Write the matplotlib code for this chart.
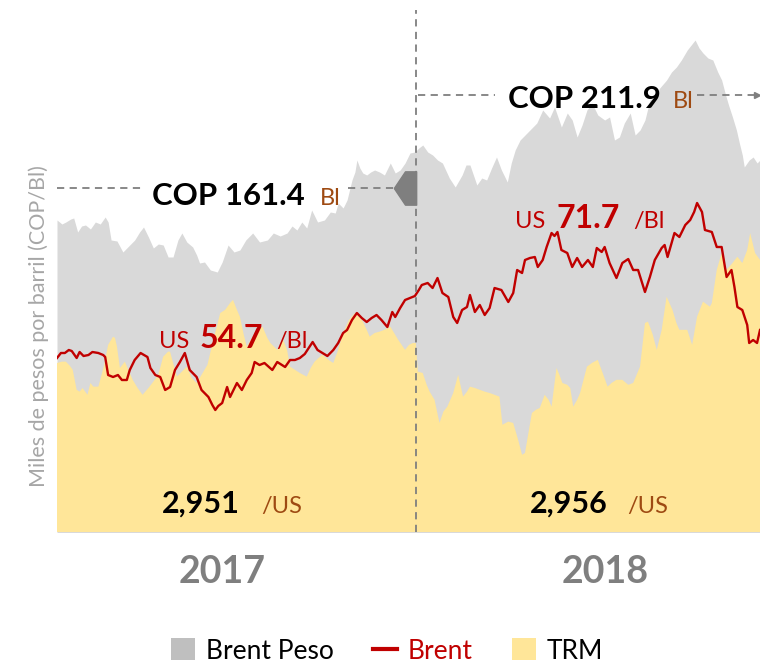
import matplotlib
matplotlib.use("Agg")
import matplotlib.pyplot as plt
from matplotlib.patches import Patch
from matplotlib.lines import Line2D

plt.rcParams['font.family'] = ['Lato', 'DejaVu Sans']

# dias contados desde el 1-ene-2017
dias_cop = [0, 5, 9, 14, 17, 21, 25, 29, 34, 39, 44, 49, 52, 55, 61, 67, 73, 79, 84, 88,
            93, 98, 103, 108, 113, 118, 123, 127, 132, 138, 142, 145, 150, 156, 163, 168, 174, 180, 186, 192,
            199, 206, 214, 220, 227, 234, 239, 244, 249, 254, 259, 265, 272, 278, 283, 286, 291, 295, 300, 303,
            305, 308, 311, 315, 319, 323, 328, 333, 339, 344, 349, 354, 359, 364, 368, 372, 377, 382, 387, 392,
            399, 405, 412, 416, 420, 427, 432, 437, 442, 447, 452, 458, 462, 466, 471, 478, 483, 488, 494, 501,
            506, 513, 519, 524, 529, 534, 539, 544, 550, 557, 562, 567, 572, 577, 583, 588, 593, 598, 603, 608,
            613, 620, 625, 630, 635, 641, 645, 649, 653, 657, 662, 667, 672, 676, 680, 683, 687, 691, 694, 697,
            699, 704, 708, 712, 715]
# miles de pesos por barril
brent_peso = [172, 170, 171, 172.5, 173, 166, 169, 169.5, 167.5, 171, 170, 173.5, 171, 162, 161.5, 156, 159, 162, 166, 168.5,
              163.5, 158, 160, 159.5, 153.5, 153.5, 162, 165.5, 161, 158.5, 154.5, 150.5, 151, 147, 146, 151, 159.5, 156, 157, 162,
              165.5, 161, 162, 165.5, 164, 165.5, 169, 167, 171, 168, 177, 171, 172, 176, 175.5, 180.5, 178, 182, 192, 196,
              202, 198, 195.5, 194.5, 196, 197, 196, 194.5, 200.5, 195.5, 197, 200.5, 205.5, 206, 208, 209.5, 206, 204.5, 202, 200.5,
              193, 188.5, 194.5, 199.5, 199.5, 189.5, 193, 192, 198, 203.5, 197, 191, 200.5, 207, 212, 215.5, 218, 220.5, 227, 223,
              228.5, 218.5, 225.5, 222, 213.5, 219.5, 227, 230.5, 224.5, 222, 223.5, 212, 213.5, 220.5, 225.5, 214.5, 217, 222, 232, 233.5,
              238, 242, 246, 248.5, 252, 257, 259.5, 262, 258, 255.5, 253, 252, 246, 242, 234.5, 229.5, 223.5, 217, 210.5, 204.5,
              198.5, 202, 203.5, 200.5, 202]

dias_brent = [0, 4, 8, 12, 15, 20, 23, 27, 32, 36, 42, 47, 49, 52, 57, 62, 66, 71, 74, 79,
              85, 92, 95, 100, 105, 110, 115, 120, 125, 130, 135, 142, 147, 154, 158, 161, 164, 168, 173, 176,
              183, 188, 193, 198, 201, 206, 211, 219, 224, 232, 237, 242, 247, 252, 256, 260, 265, 270, 275, 281,
              286, 291, 295, 300, 305, 310, 315, 320, 325, 330, 336, 341, 344, 349, 354, 359, 364, 368, 371, 377,
              382, 387, 392, 398, 403, 407, 412, 417, 420, 425, 430, 435, 440, 445, 452, 459, 464, 468, 473, 476,
              481, 486, 489, 494, 498, 503, 506, 509, 513, 519, 524, 529, 534, 540, 545, 549, 554, 557, 562, 569,
              575, 581, 586, 591, 598, 603, 608, 615, 618, 621, 628, 633, 639, 644, 648, 651, 656, 659, 666, 671,
              676, 681, 686, 689, 692, 697, 702, 704, 708, 712, 715]
# dolares por barril
brent_usd = [54.4, 55.4, 55.4, 56.0, 55.8, 54.4, 55.6, 54.8, 55.0, 55.6, 55.4, 55.0, 54.6, 51.0, 50.6, 51.0, 50.0, 50.0, 52.0, 54.0,
             55.4, 54.6, 52.4, 51.0, 50.6, 48.0, 48.6, 52.0, 53.6, 55.4, 52.0, 50.6, 48.0, 46.6, 45.0, 44.0, 44.8, 45.4, 48.6, 46.6,
             49.4, 48.0, 50.0, 51.4, 53.6, 53.0, 53.4, 52.0, 53.6, 52.6, 54.0, 54.0, 54.4, 55.2, 56.4, 57.6, 56.0, 55.4, 54.8, 56.0,
             57.4, 59.4, 60.0, 62.0, 63.4, 62.4, 61.6, 62.4, 63.0, 62.0, 60.6, 63.6, 62.6, 64.4, 66.0, 66.4, 66.8, 68.0, 69.0, 69.4,
             68.4, 70.4, 67.4, 66.6, 62.6, 61.4, 64.0, 64.6, 67.0, 63.6, 65.0, 63.0, 64.4, 68.4, 68.0, 65.6, 67.4, 72.0, 71.4, 74.0,
             74.4, 74.6, 72.6, 74.0, 76.6, 79.4, 78.8, 79.6, 76.0, 75.4, 72.6, 74.4, 72.6, 74.0, 72.6, 76.4, 75.6, 76.6, 73.4, 70.4,
             73.4, 74.2, 72.0, 72.0, 67.6, 70.6, 74.0, 76.4, 77.0, 74.6, 79.4, 78.6, 81.0, 82.0, 83.6, 85.4, 83.6, 80.0, 79.6, 76.6,
             76.6, 70.6, 72.0, 68.6, 64.6, 64.0, 61.0, 57.4, 58.0, 57.4, 60.0]

dias_trm = [0, 5, 9, 13, 16, 20, 23, 26, 31, 34, 37, 42, 44, 48, 52, 57, 59, 61, 64, 69,
            74, 77, 82, 87, 93, 98, 103, 108, 113, 115, 120, 122, 127, 132, 137, 142, 147, 153, 159, 163,
            166, 171, 176, 179, 183, 186, 190, 193, 199, 204, 209, 214, 217, 224, 230, 234, 237, 242, 247, 254,
            258, 262, 266, 270, 276, 281, 286, 291, 297, 303, 308, 311, 315, 318, 323, 328, 333, 339, 344, 347,
            354, 358, 362, 365, 367, 372, 376, 379, 384, 389, 393, 397, 403, 408, 413, 417, 420, 425, 430, 435,
            440, 445, 450, 453, 459, 464, 469, 473, 476, 480, 483, 487, 491, 496, 500, 503, 508, 511, 514, 519,
            522, 525, 529, 532, 539, 544, 550, 555, 560, 564, 569, 575, 581, 586, 593, 598, 601, 603, 606, 610,
            615, 620, 626, 630, 633, 641, 646, 651, 657, 664, 666, 671, 676, 681, 687, 692, 697, 702, 705, 710,
            715]
# pesos por dolar
trm = [2902, 2905, 2905, 2896, 2887, 2843, 2839, 2847, 2832, 2858, 2850, 2850, 2865, 2898, 2942, 2960, 2957, 2938, 2891, 2905,
       2880, 2865, 2847, 2832, 2847, 2861, 2876, 2916, 2927, 2927, 2887, 2872, 2883, 2894, 2869, 2858, 2876, 2898, 2953, 2986,
       3012, 3019, 3034, 3041, 3019, 3004, 2964, 2938, 2960, 2975, 2982, 2957, 2946, 2931, 2953, 2931, 2894, 2887, 2880, 2872,
       2891, 2905, 2913, 2920, 2909, 2902, 2931, 2968, 2997, 3012, 3001, 2993, 2975, 2960, 2968, 2971, 2975, 2982, 2964, 2953,
       2931, 2942, 2946, 2946, 2883, 2880, 2854, 2839, 2821, 2770, 2795, 2806, 2836, 2876, 2828, 2839, 2850, 2847, 2843, 2839,
       2836, 2832, 2828, 2766, 2773, 2770, 2733, 2700, 2704, 2755, 2792, 2799, 2803, 2832, 2821, 2806, 2891, 2876, 2858, 2854,
       2847, 2806, 2821, 2836, 2894, 2902, 2909, 2880, 2850, 2858, 2865, 2865, 2854, 2858, 2894, 2990, 2993, 2982, 2964, 2931,
       2975, 3048, 3019, 2990, 2975, 2975, 2942, 3004, 3037, 3026, 3034, 3107, 3144, 3107, 3122, 3136, 3122, 3151, 3188, 3144,
       3129]

anios = ['2017', '2018']
inicio_2018 = 365
prom_cop = [161.4, 211.9]
prom_usd = [54.7, 71.7]
prom_trm = ['2,951', '2,956']

rojo = '#C00000'
cafe = '#9E4A12'
gris = '#7F7F7F'

fig = plt.figure(figsize=(7.6, 6.67), dpi=100)
ax = fig.add_axes([57 / 760, 135 / 667, 703 / 760, 532 / 667])
ax_trm = ax.twinx()
ax_usd = ax.twinx()

ax.fill_between(dias_cop, 0, brent_peso, color='#D9D9D9', lw=0)
ax_trm.fill_between(dias_trm, 0, trm, color='#FFE699', lw=0)
ax_usd.plot(dias_brent, brent_usd, color=rojo, lw=1.7)
ax_usd.axvline(inicio_2018, ymin=0, ymax=0.981, color=gris, ls=(0, (4, 3)), lw=1.3)

ax.set_ylim(16, 282)
ax_trm.set_ylim(2530, 3701)
ax_usd.set_ylim(19.6, 126)
for a in (ax, ax_trm, ax_usd):
    a.set_xlim(0, 715)
    a.axis('off')


def fx(x):
    return x / 760


def fy(y):
    return 1 - y / 667


# lineas punteadas con el promedio en pesos
linea = dict(color=gris, ls=(0, (4, 3)), lw=1.3)
fig.add_artist(Line2D([fx(57), fx(143)], [fy(188), fy(188)], **linea))
fig.add_artist(Line2D([fx(348), fx(400)], [fy(188), fy(188)], **linea))
flecha = [(-0.67, 0), (0, 1), (0.67, 1), (0.67, -1), (0, -1), (-0.67, 0)]
fig.add_artist(Line2D([fx(405)], [fy(188)], marker=flecha, markersize=24, color=gris, lw=0))
fig.add_artist(Line2D([fx(418), fx(495)], [fy(95), fy(95)], **linea))
fig.add_artist(Line2D([fx(697), fx(757)], [fy(95), fy(95)], **linea))
fig.add_artist(Line2D([fx(757)], [fy(95)], marker='>', markersize=5, color=gris, lw=0))

# etiquetas de promedios
pos_cop = [(152, 320, 205), (508, 673, 108)]
pos_usd = [(159, 200, 276, 348), (515, 556, 633, 228)]
pos_trm = [(162, 261), (530, 627)]
pos_anio = [222, 605]
for i in range(2):
    x1, x2, y = pos_cop[i]
    fig.text(fx(x1), fy(y), f'COP {prom_cop[i]:.1f}', fontsize=22.5, fontweight='bold', va='baseline')
    fig.text(fx(x2), fy(y), 'Bl', fontsize=17, color=cafe, va='baseline')

    x1, x2, x3, y = pos_usd[i]
    fig.text(fx(x1), fy(y), 'US', fontsize=17, color=rojo, va='baseline')
    fig.text(fx(x2), fy(y), f'{prom_usd[i]:.1f}', fontsize=23, fontweight='bold', color=rojo, va='baseline')
    fig.text(fx(x3), fy(y), '/Bl', fontsize=17, color=rojo, va='baseline')

    x1, x2 = pos_trm[i]
    fig.text(fx(x1), fy(513), prom_trm[i], fontsize=22, fontweight='bold', va='baseline')
    fig.text(fx(x2), fy(513), '/US', fontsize=17, color=cafe, va='baseline')

    fig.text(fx(pos_anio[i]), fy(583), anios[i], fontsize=27, fontweight='bold', color=gris,
             ha='center', va='baseline')

fig.text(fx(39), fy(326), 'Miles de pesos por barril (COP/Bl)', rotation=90, fontsize=15.5,
         color='#A6A6A6', ha='center', va='center')

handles = [Patch(facecolor='#BFBFBF', edgecolor='none'),
           Line2D([], [], color=rojo, lw=3),
           Patch(facecolor='#FFE699', edgecolor='none')]
leg = fig.legend(handles, ['Brent Peso', 'Brent', 'TRM'], loc='center', bbox_to_anchor=(fx(387), fy(651)),
                 ncol=3, frameon=False, fontsize=19, handlelength=0.9, handleheight=0.9,
                 handletextpad=0.4, columnspacing=1.5)
leg.get_texts()[1].set_color(rojo)

fig.savefig('out.png', dpi=100)
